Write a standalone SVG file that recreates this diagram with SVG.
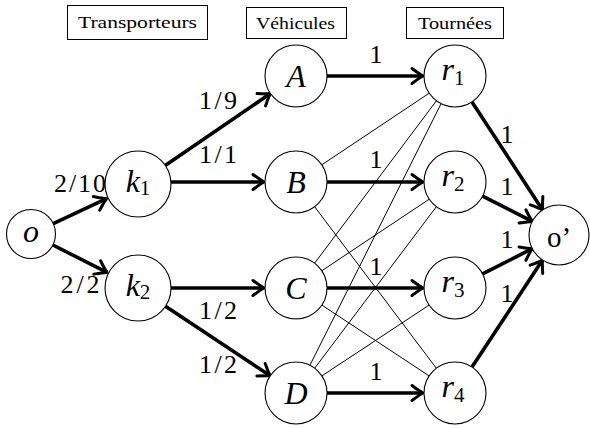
<svg xmlns="http://www.w3.org/2000/svg" width="590" height="428" viewBox="0 0 590 428">
<style>
.node circle { fill: #fff; stroke: #000; stroke-width: 1.1; }
.nl { font-family: 'Liberation Serif', 'DejaVu Serif', serif; font-size: 32px; fill: #000; }
.it { font-style: italic; }
.sub { font-size: 21px; font-style: normal; }
.hdr rect { fill: #fff; stroke: #000; stroke-width: 1; }
.hdr text { font-family: 'Liberation Serif', 'DejaVu Serif', serif; font-size: 16.5px; fill: #000; }
.thick { stroke: #000; stroke-width: 3.6; fill: none; marker-end: url(#arr); }
.thin { stroke: #000; stroke-width: 1; fill: none; }
.el { font-family: 'Liberation Serif', 'DejaVu Serif', serif; font-size: 26px; fill: #000; text-anchor: middle; }
</style>
<defs>
<marker id="arr" markerUnits="userSpaceOnUse" markerWidth="20" markerHeight="20" viewBox="-14 -10 18 20" refX="0" refY="0" orient="auto">
<path d="M -11 -7.5 Q -3 -1.5 0 0 Q -3 1.5 -11 7.5" fill="none" stroke="#000" stroke-width="3" stroke-linecap="round" stroke-linejoin="round"/>
</marker>
</defs>
<rect width="590" height="428" fill="#fff"/>

<g id="headers">
<g id="hdr-transporteurs" class="hdr"><rect x="67.5" y="5.5" width="140" height="34"/><text x="78" y="28" textLength="119" lengthAdjust="spacingAndGlyphs">Transporteurs</text></g>
<g id="hdr-vehicules" class="hdr"><rect x="246.5" y="7.5" width="100" height="31"/><text x="256" y="29" textLength="79" lengthAdjust="spacingAndGlyphs">Véhicules</text></g>
<g id="hdr-tournees" class="hdr"><rect x="406.5" y="7.5" width="97" height="31"/><text x="418" y="29" textLength="74" lengthAdjust="spacingAndGlyphs">Tournées</text></g>
</g>

<g id="connectors">
<line class="thin" x1="321.8" y1="164.8" x2="429.2" y2="93.2"/>
<line class="thin" x1="314.7" y1="206.8" x2="436.3" y2="368.2"/>
<line class="thin" x1="314.6" y1="263.2" x2="436.4" y2="100.8"/>
<line class="thin" x1="321.8" y1="270.8" x2="429.2" y2="199.2"/>
<line class="thin" x1="321.9" y1="305.1" x2="429.1" y2="375.9"/>
<line class="thin" x1="309.9" y1="365.3" x2="441.1" y2="103.7"/>
<line class="thin" x1="314.7" y1="368.2" x2="436.3" y2="206.8"/>
<line class="thin" x1="321.9" y1="375.9" x2="429.1" y2="305.1"/>

<line class="thick" x1="53.2" y1="223.6" x2="106.5" y2="198.7"/>
<line class="thick" x1="52.9" y1="245.0" x2="107" y2="272.4"/>
<line class="thick" x1="165.2" y1="165.4" x2="270.4" y2="93.5"/>
<line class="thick" x1="171" y1="182" x2="264" y2="182"/>
<line class="thick" x1="171" y1="288" x2="264" y2="288"/>
<line class="thick" x1="165.5" y1="306.3" x2="270.2" y2="375.8"/>
<line class="thick" x1="327" y1="76" x2="423" y2="76"/>
<line class="thick" x1="327" y1="182" x2="423" y2="182"/>
<line class="thick" x1="327" y1="288" x2="423" y2="288"/>
<line class="thick" x1="327" y1="393" x2="423" y2="393"/>
<line class="thick" x1="472" y1="101.9" x2="542.6" y2="209.9"/>
<line class="thick" x1="482.6" y1="196.1" x2="532.3" y2="221.4"/>
<line class="thick" x1="482.6" y1="273.9" x2="532.3" y2="248.6"/>
<line class="thick" x1="472" y1="367.1" x2="542.5" y2="260.1"/>

<text class="el" x="80" y="192" textLength="52" lengthAdjust="spacing">2/10</text>
<text class="el" x="80" y="293" textLength="39" lengthAdjust="spacing">2/2</text>
<text class="el" x="218" y="109" textLength="38" lengthAdjust="spacing">1/9</text>
<text class="el" x="218" y="163" textLength="38" lengthAdjust="spacing">1/1</text>
<text class="el" x="218" y="319" textLength="38" lengthAdjust="spacing">1/2</text>
<text class="el" x="218" y="373" textLength="38" lengthAdjust="spacing">1/2</text>
<text class="el" x="376" y="63">1</text>
<text class="el" x="376" y="168">1</text>
<text class="el" x="376" y="275">1</text>
<text class="el" x="376" y="380">1</text>
<text class="el" x="507" y="143">1</text>
<text class="el" x="507" y="195">1</text>
<text class="el" x="507" y="248">1</text>
<text class="el" x="507" y="302">1</text>
</g>

<g id="node-o" class="node"><circle cx="31" cy="234" r="24.5"/><text class="nl it" x="31" y="242" text-anchor="middle">o</text></g>
<g id="node-k1" class="node"><circle cx="138" cy="184" r="33"/><text class="nl" x="138" y="192" text-anchor="middle"><tspan class="it">k</tspan><tspan class="sub" dy="3">1</tspan></text></g>
<g id="node-k2" class="node"><circle cx="138" cy="288" r="33"/><text class="nl" x="138" y="296" text-anchor="middle"><tspan class="it">k</tspan><tspan class="sub" dy="3">2</tspan></text></g>
<g id="node-A" class="node"><circle cx="296" cy="76" r="31"/><text class="nl it" x="296" y="87" text-anchor="middle">A</text></g>
<g id="node-B" class="node"><circle cx="296" cy="182" r="31"/><text class="nl it" x="296" y="193" text-anchor="middle">B</text></g>
<g id="node-C" class="node"><circle cx="296" cy="288" r="31"/><text class="nl it" x="296" y="299" text-anchor="middle">C</text></g>
<g id="node-D" class="node"><circle cx="296" cy="393" r="31"/><text class="nl it" x="296" y="404" text-anchor="middle">D</text></g>
<g id="node-r1" class="node"><circle cx="455" cy="76" r="31"/><text class="nl" x="453" y="80" text-anchor="middle"><tspan class="it">r</tspan><tspan class="sub" dy="5">1</tspan></text></g>
<g id="node-r2" class="node"><circle cx="455" cy="182" r="31"/><text class="nl" x="453" y="186" text-anchor="middle"><tspan class="it">r</tspan><tspan class="sub" dy="5">2</tspan></text></g>
<g id="node-r3" class="node"><circle cx="455" cy="288" r="31"/><text class="nl" x="453" y="292" text-anchor="middle"><tspan class="it">r</tspan><tspan class="sub" dy="5">3</tspan></text></g>
<g id="node-r4" class="node"><circle cx="455" cy="393" r="31"/><text class="nl" x="453" y="397" text-anchor="middle"><tspan class="it">r</tspan><tspan class="sub" dy="5">4</tspan></text></g>
<g id="node-o-prime" class="node"><circle cx="559" cy="235" r="30"/><text class="nl" x="559" y="247" text-anchor="middle" style="font-size:29px">o’</text></g>
</svg>
